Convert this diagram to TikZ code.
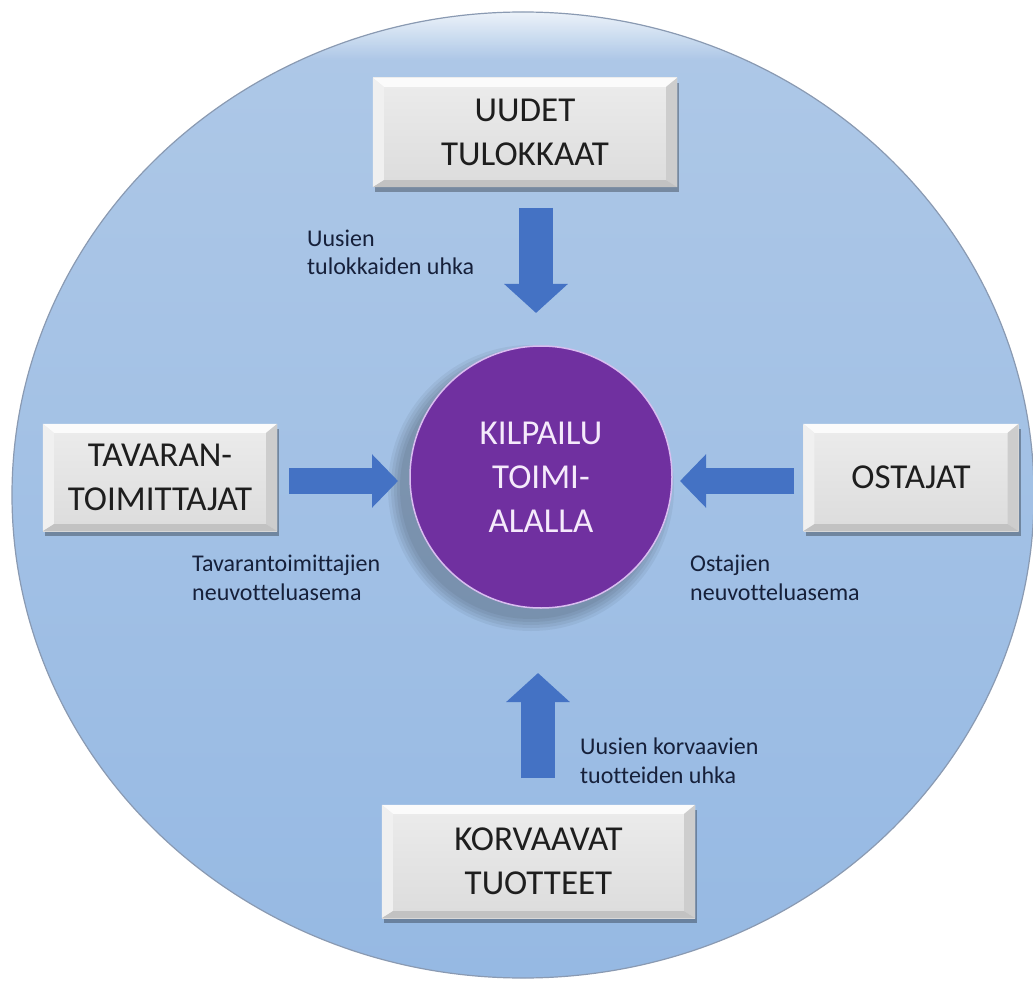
\documentclass[tikz,border=0pt]{standalone}
\usepackage{fontspec}
\setmainfont{Carlito}[Ligatures=NoCommon]
\usetikzlibrary{arrows.meta,shadows,fadings}
\definecolor{bgtop}{HTML}{AEC8E7}
\definecolor{bgbot}{HTML}{96B9E3}
\definecolor{rim}{HTML}{8A9AB2}
\definecolor{arrowblue}{HTML}{4472C4}
\definecolor{kpurple}{HTML}{7030A0}
\definecolor{krim}{HTML}{D9BDF0}
\definecolor{ktext}{HTML}{F5EAFB}
\definecolor{facetop}{HTML}{ECECEC}
\definecolor{facebot}{HTML}{DCDCDC}
\definecolor{btop}{HTML}{FBFBFB}
\definecolor{bleft}{HTML}{F0F0F0}
\definecolor{bright}{HTML}{CDCDCD}
\definecolor{bbot}{HTML}{C2C2C2}
\definecolor{labeltext}{HTML}{16203A}
\definecolor{boxtext}{HTML}{1E1E1E}
\begin{document}
\begin{tikzpicture}[x=1pt,y=-1pt,
  panel/.style={rectangle, inner sep=0pt, top color=facetop, bottom color=facebot,
    drop shadow={shadow xshift=2pt, shadow yshift=-5pt, opacity=0.3, fill=black},
    align=center, text=boxtext, font=\fontsize{35}{44}\selectfont},
  hub/.style={circle, inner sep=0pt, minimum size=262pt, fill=kpurple, draw=krim,
    line width=1.5pt, align=center, text=ktext, font=\fontsize{35}{44}\selectfont},
  note/.style={anchor=base west, align=left, inner sep=0pt, text=labeltext,
    font=\fontsize{24}{28.5}\selectfont},
  vblock/.style={arrowblue, line width=34pt, -{Triangle[width=62pt, length=29pt]}},
  hblock/.style={arrowblue, line width=26pt, -{Triangle[width=52pt, length=26pt]}}]
\useasboundingbox (0,0) rectangle (1033,981);
% background disc
\path[top color=bgtop, bottom color=bgbot] (523,495) ellipse [x radius=511, y radius=483];
\begin{scope}
  \clip (523,495) ellipse [x radius=511, y radius=483];
  \fill[white, path fading=south, opacity=0.8] (0,10) rectangle (1033,60);
\end{scope}
\draw[rim, line width=1.2pt] (523,495) ellipse [x radius=511, y radius=483];
% hub shadow
\foreach \r in {0,3,6,9,12}
  \fill[black, opacity=0.05] (531,488) circle [radius=131+\r];
% nodes
\node[panel, minimum width=304pt, minimum height=109pt] (top) at (525,132.5) {UUDET\\TULOKKAAT};
\node[panel, minimum width=234pt, minimum height=107pt] (left) at (160,477.5) {TAVARAN-\\TOIMITTAJAT};
\node[panel, minimum width=215pt, minimum height=107pt] (right) at (911,477.5) {OSTAJAT};
\node[panel, minimum width=313pt, minimum height=113pt] (bottom) at (538.5,861.5) {KORVAAVAT\\TUOTTEET};
\node[hub] (hub) at (541,477) {KILPAILU\\TOIMI-\\ALALLA};
% bevels
\foreach \n in {top,left,right,bottom}{
  \fill[btop] (\n.north west) -- (\n.north east) -- ([shift={(-11,9)}]\n.north east) -- ([shift={(11,9)}]\n.north west) -- cycle;
  \fill[bleft] (\n.north west) -- ([shift={(11,9)}]\n.north west) -- ([shift={(11,-7)}]\n.south west) -- (\n.south west) -- cycle;
  \fill[bright] (\n.north east) -- ([shift={(-11,9)}]\n.north east) -- ([shift={(-11,-7)}]\n.south east) -- (\n.south east) -- cycle;
  \fill[bbot] (\n.south west) -- ([shift={(11,-7)}]\n.south west) -- ([shift={(-11,-7)}]\n.south east) -- (\n.south east) -- cycle;
}
% arrows
\coordinate (t1) at (536,208);
\coordinate (t2) at (536,313);
\coordinate (b1) at (538,778);
\coordinate (b2) at (538,673);
\coordinate (l1) at (289,481);
\coordinate (l2) at (398,481);
\coordinate (r1) at (794,481);
\coordinate (r2) at (680,481);
\draw[vblock] (t1) -- (t2);
\draw[vblock] (b1) -- (b2);
\draw[hblock] (l1) -- (l2);
\draw[hblock] (r1) -- (r2);
% labels (anchor is the baseline of the last line)
\node[note] (n1) at (307,275) {Uusien\\tulokkaiden uhka};
\node[note] (n2) at (192,600) {Tavarantoimittajien\\neuvotteluasema};
\node[note] (n3) at (690,600) {Ostajien\\neuvotteluasema};
\node[note] (n4) at (580,783) {Uusien korvaavien\\tuotteiden uhka};
\end{tikzpicture}
\end{document}
